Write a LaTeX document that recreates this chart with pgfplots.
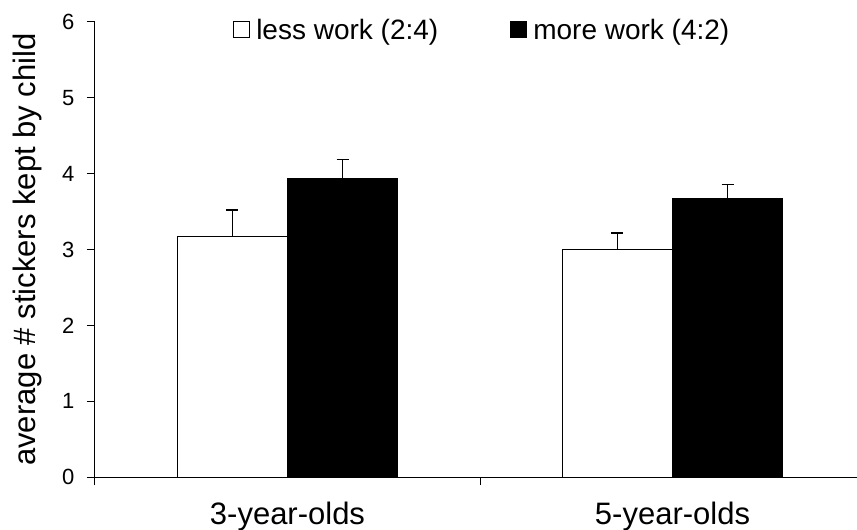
\documentclass[border=0pt]{standalone}
\usepackage{fontspec}
\setmainfont{Liberation Sans}
\usepackage{pgfplots}
\pgfplotsset{compat=1.18}
\begin{document}
\begin{tikzpicture}
\begin{axis}[
  width=770pt, height=455pt, scale only axis,
  xmin=-0.5, xmax=1.5, ymin=0, ymax=6,
  axis x line*=bottom, axis y line*=left,
  axis line style={black, line width=1pt},
  ybar=0pt, bar width=0.286,
  xtick={-0.5,0.5,1.5}, xticklabels={},
  extra x ticks={0,1},
  extra x tick labels={3-year-olds,5-year-olds},
  extra x tick style={major tick length=0pt},
  xticklabel style={font=\fontsize{31}{36}\selectfont, yshift=-22pt},
  ytick={0,1,2,3,4,5,6},
  yticklabel style={font=\fontsize{22}{26}\selectfont, xshift=-9pt},
  /pgf/number format/assume math mode=true,
  tick align=outside, major tick length=8pt,
  tick style={black, line width=1pt},
  ylabel={average \# stickers kept by child},
  ylabel style={font=\fontsize{31}{36}\selectfont,
    at={(axis description cs:-0.0883,0.5)}, anchor=center},
  legend style={draw=none, fill=none, at={(0.503,1)}, anchor=center, yshift=-8pt,
    font=\fontsize{28}{32}\selectfont,
    /tikz/every even column/.append style={column sep=70pt}},
  legend columns=2,
  legend image code/.code={\draw[#1, line width=1pt] (0pt,-8pt) rectangle (16pt,8pt);
    \path (20pt,0pt);},
]
\addplot[fill=white, draw=black, line width=1pt,
  error bars/.cd, y dir=plus, y explicit,
  error bar style={black, line width=1.5pt},
  error mark options={rotate=90, mark size=6pt, line width=1.5pt}]
  coordinates {(0,3.17) +- (0,0.35) (1,3.00) +- (0,0.22)};
\addlegendentry{less work (2:4)}
\addplot[fill=black, draw=black, line width=1pt,
  error bars/.cd, y dir=plus, y explicit,
  error bar style={black, line width=1.5pt},
  error mark options={rotate=90, mark size=6pt, line width=1.5pt}]
  coordinates {(0,3.94) +- (0,0.25) (1,3.67) +- (0,0.19)};
\addlegendentry{more work (4:2)}
\end{axis}
\pgfresetboundingbox
\useasboundingbox (-95pt,-53pt) rectangle (762pt,477pt);
\end{tikzpicture}
\end{document}
